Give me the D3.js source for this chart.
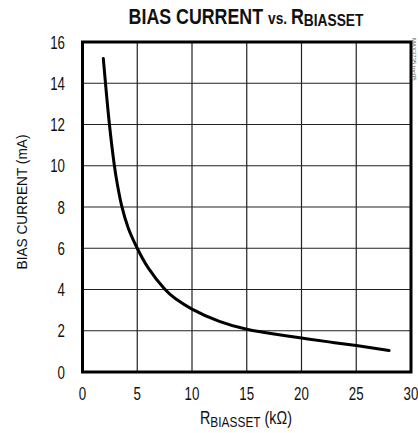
<!DOCTYPE html>
<html>
<head>
<meta charset="utf-8">
<script src="https://cdn.jsdelivr.net/npm/d3@7"></script>
<style>
  body { margin: 0; background: #fff; }
  text { font-family: "Liberation Sans", Arial, sans-serif; fill: #111; }
</style>
</head>
<body>
<script>
// values
var rBiasSet = [1.9, 2.1, 2.45, 2.9, 3.2, 3.58, 4.2, 5.0, 6, 7.5, 8.5, 10, 12.5, 15, 17.5, 20, 22.5, 25, 28];
var biasCurrent = [15.2, 14, 12.05, 10.05, 9.05, 8.05, 6.95, 6, 5.05, 4.02, 3.55, 3.05, 2.45, 2.07, 1.84, 1.65, 1.46, 1.28, 1.04];
var xTicks = [0, 5, 10, 15, 20, 25, 30];
var yTicks = [0, 2, 4, 6, 8, 10, 12, 14, 16];

var width = 418,
    height = 433;

var margin = {left: 82.5, right: 7, top: 42, bottom: 61};

var svg = d3.select("body").append("svg")
    .attr("width", width)
    .attr("height", height);

var x = d3.scaleLinear().domain([0, 30]).range([margin.left, width - margin.right]);
var y = d3.scaleLinear().domain([0, 16]).range([height - margin.bottom, margin.top]);

// squeeze a text horizontally so that it is w px long
function fit(t, w, tf) {
  var len = t.node().getComputedTextLength();
  t.attr("transform", tf + " scale(" + (w / len) + ",1)");
}

// grid
svg.append("g")
  .selectAll("line")
  .data(xTicks.slice(1, -1))
  .enter().append("line")
  .attr("x1", function(d){ return x(d) })
  .attr("x2", function(d){ return x(d) })
  .attr("y1", y(16))
  .attr("y2", y(0))
  .attr("stroke", "#222")
  .attr("stroke-width", 1.2);

svg.append("g")
  .selectAll("line")
  .data(yTicks.slice(1, -1))
  .enter().append("line")
  .attr("x1", x(0))
  .attr("x2", x(30))
  .attr("y1", function(d){ return y(d) })
  .attr("y2", function(d){ return y(d) })
  .attr("stroke", "#222")
  .attr("stroke-width", 1.2);

// frame
svg.append("rect")
  .attr("x", x(0))
  .attr("y", y(16))
  .attr("width", x(30) - x(0))
  .attr("height", y(0) - y(16))
  .attr("fill", "none")
  .attr("stroke", "#000")
  .attr("stroke-width", 3);

// curve
var line = d3.line()
  .x(function(d){ return x(d[0]) })
  .y(function(d){ return y(d[1]) })
  .curve(d3.curveNatural);

svg.append("path")
  .datum(d3.zip(rBiasSet, biasCurrent))
  .attr("d", line)
  .attr("fill", "none")
  .attr("stroke", "#000")
  .attr("stroke-width", 3)
  .attr("stroke-linecap", "round");

// tick labels
svg.append("g")
  .selectAll("text")
  .data(xTicks)
  .enter().append("text")
  .attr("transform", function(d){ return "translate(" + x(d) + ",400) scale(0.74,1)" })
  .attr("text-anchor", "middle")
  .style("font-size", "18px")
  .text(function(d){ return d });

svg.append("g")
  .selectAll("text")
  .data(yTicks)
  .enter().append("text")
  .attr("transform", function(d){ return "translate(65," + (y(d) + 6.5) + ") scale(0.74,1)" })
  .attr("text-anchor", "end")
  .style("font-size", "18px")
  .text(function(d){ return d });

// axis titles
var xt = svg.append("text")
  .attr("text-anchor", "middle")
  .style("font-size", "18px");
xt.append("tspan").text("R");
xt.append("tspan").style("font-size", "15px").attr("dy", 3).text("BIASSET");
xt.append("tspan").attr("dy", -3).text(" (k\u03A9)");
fit(xt, 92, "translate(246,424)");

var yt = svg.append("text")
  .attr("text-anchor", "middle")
  .style("font-size", "14px")
  .text("BIAS CURRENT (mA)");
fit(yt, 135, "translate(27,202) rotate(-90)");

// title
var title = svg.append("text")
  .attr("text-anchor", "middle")
  .style("font-size", "22px")
  .style("font-weight", "bold");
title.append("tspan").text("BIAS CURRENT ");
title.append("tspan").style("font-size", "17px").text("vs. ");
title.append("tspan").text("R");
title.append("tspan").style("font-size", "17px").attr("dy", 2).text("BIASSET");
fit(title, 235, "translate(246,24)");

// side label
svg.append("text")
  .attr("transform", "translate(412,38) rotate(90)")
  .style("font-size", "6px")
  .style("fill", "#555")
  .text("MAX3735 toc05");
</script>
</body>
</html>
